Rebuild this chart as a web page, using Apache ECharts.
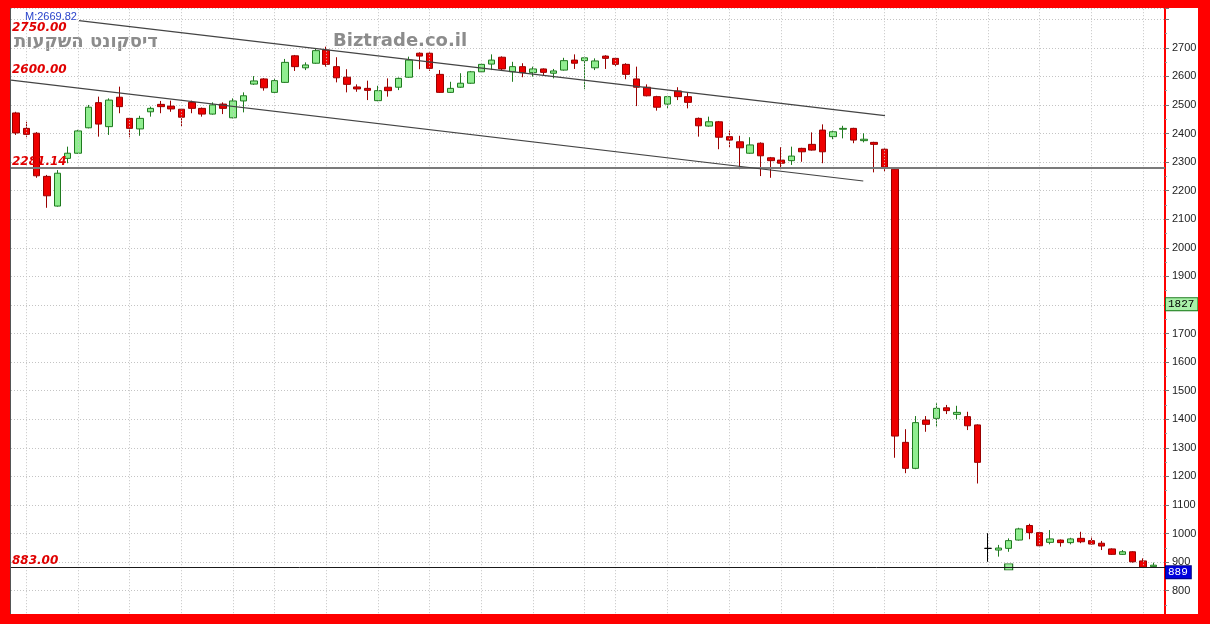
<!DOCTYPE html>
<html><head><meta charset="utf-8">
<script src="https://cdn.jsdelivr.net/npm/echarts@6/dist/echarts.min.js"></script>
<style>
html,body{margin:0;padding:0;background:#ff0000;overflow:hidden;}
#c{position:absolute;left:0;top:0;width:1210px;height:624px;background:#fff;}
.b{position:absolute;background:#ff0000;}
</style></head><body>
<div id="c"></div>
<div class="b" style="left:0;top:0;width:1210px;height:8px"></div>
<div class="b" style="left:0;top:614px;width:1210px;height:10px"></div>
<div class="b" style="left:0;top:0;width:10px;height:624px"></div>
<div class="b" style="left:1198px;top:0;width:12px;height:624px"></div>
<div style="position:absolute;left:10px;top:8px;width:1px;height:606px;background:#555"></div>
<script>
// ---- data ----
const openP = [2472,2418,2401,2250,2146,2313,2331,2420,2508,2424,2527,2453,2416,2476,2502,2496,2485,2509,2488,2468,
2503,2455,2514,2573,2591,2544,2579,2672,2630,2646,2692,2634,2597,2563,2558,2515,2562,2562,2597,2681,
2681,2607,2544,2562,2576,2616,2643,2667,2616,2634,2613,2626,2611,2622,2657,2655,2630,2671,2663,2642,
2591,2562,2529,2503,2549,2529,2453,2426,2441,2389,2371,2331,2366,2315,2307,2305,2348,2362,2412,2389,
2415,2418,2375,2369,2345,2275,1319,1228,1397,1403,1440,1417,1409,1380,948,942,948,977,1028,1003,
969,977,968,983,975,966,946,927,936,904,884];
const closeP = [2402,2397,2252,2182,2261,2331,2409,2492,2433,2517,2494,2418,2453,2488,2494,2486,2457,2488,2468,2500,
2488,2514,2532,2584,2560,2585,2649,2634,2640,2690,2642,2595,2572,2556,2551,2550,2550,2593,2657,2671,
2628,2544,2558,2576,2616,2642,2657,2626,2634,2613,2626,2614,2619,2655,2646,2665,2654,2663,2642,2607,
2562,2532,2492,2529,2529,2509,2427,2441,2387,2377,2350,2360,2322,2305,2296,2321,2336,2342,2336,2406,
2418,2377,2380,2362,2282,1341,1228,1388,1382,1438,1430,1424,1377,1249,948,949,975,1016,1003,957,
981,968,981,971,963,956,927,936,901,882,889];
const lowP = [2395,2387,2245,2140,2144,2296,2329,2418,2389,2395,2471,2387,2392,2459,2471,2476,2426,2471,2459,2466,
2468,2453,2474,2570,2550,2542,2577,2619,2622,2644,2634,2579,2544,2546,2517,2513,2529,2552,2595,2625,
2619,2542,2542,2560,2574,2614,2622,2619,2581,2597,2599,2605,2593,2620,2626,2555,2622,2626,2636,2590,
2496,2530,2480,2488,2517,2488,2389,2424,2345,2352,2275,2329,2251,2245,2275,2290,2301,2340,2296,2380,
2383,2366,2369,2264,2266,1265,1211,1225,1356,1372,1418,1400,1362,1175,901,919,936,975,980,952,
962,954,962,966,960,942,925,925,898,879,882];
const highP = [2476,2441,2405,2255,2272,2354,2413,2500,2529,2523,2564,2455,2462,2494,2514,2515,2488,2515,2491,2509,
2509,2523,2544,2601,2594,2593,2661,2675,2649,2698,2704,2667,2625,2572,2585,2567,2593,2596,2669,2684,
2684,2622,2581,2611,2619,2646,2677,2670,2651,2646,2634,2628,2626,2665,2677,2669,2663,2674,2667,2646,
2634,2572,2532,2532,2562,2543,2456,2459,2444,2410,2392,2387,2369,2318,2352,2354,2350,2404,2432,2410,
2427,2420,2401,2371,2348,2278,1365,1411,1411,1456,1450,1447,1426,1382,1001,960,983,1020,1034,1005,
1012,979,985,1006,989,974,948,942,938,913,898];
const dojiIdx = [94];
const weekLines = [1,6,11,16,21,25,30,35,40,45,50,55,58,63,69,74,79,84,89,94,99,104,109];
const levelLabels = [2750, 2600, 2281.14, 883];
const levelLinesShown = [2281.14, 883];
const trendUpper = [[6.09, 2794.8], [84.04, 2462.4]];
const trendLower = [[-0.48, 2586.9], [81.94, 2233.8]];
const lowMarker = [[96, 883]];
const lastBoxes = [{v: 1827, bg: '#a8f0a8', border: '#1a7a1a', fg: '#000'}, {v: 889, bg: '#0000dd', border: '#000080', fg: '#fff'}];
const yTicksLabelMax = 2700;

const X_MIN = -0.4836, X_MAX = 111.12;

const candleData = openP.map((o, i) => {
  const item = {value: [i, o, closeP[i], lowP[i], highP[i]]};
  if (dojiIdx.includes(i)) item.itemStyle = {color: '#000', color0: '#000', borderColor: '#000', borderColor0: '#000'};
  return item;
});

const auxMarks = [];
weekLines.forEach(v => auxMarks.push({xAxis: v, lineStyle: {color: '#c4c4c4', type: [1, 2], width: 1}, label: {show: false}}));
levelLabels.forEach(v => {
  const shown = levelLinesShown.includes(v);
  auxMarks.push({
    yAxis: v,
    lineStyle: shown ? (v === 883 ? {color: '#1a1a1a', width: 1, type: 'solid'} : {color: '#7a7a7a', width: 2, type: 'solid'})
                     : {color: 'rgba(0,0,0,0)', width: 0},
    label: {show: true, position: 'insideStartTop', distance: [1, 0], formatter: v.toFixed(2), color: '#e00000',
      fontStyle: 'italic', fontWeight: 'bold', fontSize: 12, fontFamily: 'DejaVu Sans', opacity: 1}
  });
});
lastBoxes.forEach(b => auxMarks.push({
  yAxis: b.v, lineStyle: {color: 'rgba(0,0,0,0)', width: 0},
  label: {show: true, position: 'end', distance: 1, offset: [0, 7], formatter: String(b.v), color: b.fg,
    backgroundColor: b.bg, borderColor: b.border, borderWidth: 1, padding: [1, 3, 0, 2],
    fontFamily: 'Liberation Mono', fontSize: 11, opacity: 1}
}));

const chart = echarts.init(document.getElementById('c'), null, {renderer: 'canvas'});
chart.setOption({
  animation: false,
  backgroundColor: '#ffffff',
  grid: {left: 11, right: 45, top: 8, bottom: 4.8, containLabel: false, outerBoundsMode: 'none'},
  xAxis: {type: 'value', min: X_MIN, max: X_MAX, show: false, splitLine: {show: false}, axisLine: {onZero: false}},
  yAxis: {
    type: 'value', position: 'right', min: 700, max: 2839.3, interval: 100,
    axisLine: {show: true, onZero: false, lineStyle: {color: '#ff0000', width: 2}},
    axisTick: {show: true, length: 4, lineStyle: {color: '#777'}},
    minorTick: {show: true, splitNumber: 2, length: 2, lineStyle: {color: '#999'}},
    axisLabel: {show: true, margin: 7, color: '#222', fontSize: 11, fontFamily: 'Liberation Sans',
      showMaxLabel: false, showMinLabel: false,
      formatter: v => (v > yTicksLabelMax || v < 800) ? '' : String(Math.round(v))},
    splitLine: {show: true, lineStyle: {color: '#c4c4c4', type: [1, 2], width: 1}}
  },
  graphic: [
    {type: 'text', left: 25, top: 11, z: 10, style: {text: 'M:2669.82', fill: '#2a44cc', font: '11px "Liberation Sans"'}},
    {type: 'text', left: 14, top: 33, z: 0, style: {text: 'דיסקונט השקעות', fill: '#8c8c8c', font: 'bold 18px "DejaVu Sans"'}},
    {type: 'text', left: 333, top: 32, z: 0, style: {text: 'Biztrade.co.il', fill: '#8c8c8c', font: 'bold 18px "DejaVu Sans"'}}
  ],
  series: [
    {
      type: 'line', data: [], z: 1, clip: false, silent: true, symbol: 'none',
      markLine: {silent: true, symbol: ['none', 'none'], animation: false, data: auxMarks}
    },
    {
      type: 'candlestick', z: 3, barWidth: 7, data: candleData, clip: false,
      itemStyle: {color: '#90ee90', color0: '#ee0000', borderColor: '#1f7a1f', borderColor0: '#9a0000', borderWidth: 1},
      markLine: {
        silent: true, symbol: ['none', 'none'], animation: false, label: {show: false},
        lineStyle: {color: '#444', width: 1.2, type: 'solid'},
        data: [
          [{coord: trendUpper[0]}, {coord: trendUpper[1]}],
          [{coord: trendLower[0]}, {coord: trendLower[1]}]
        ]
      }
    },
    {
      type: 'scatter', z: 4, data: lowMarker, symbol: 'rect', symbolSize: [8, 6], silent: true,
      itemStyle: {color: '#a0f0a0', borderColor: '#1a6a1a', borderWidth: 1, opacity: 1}
    }
  ]
});
</script>
</body></html>
